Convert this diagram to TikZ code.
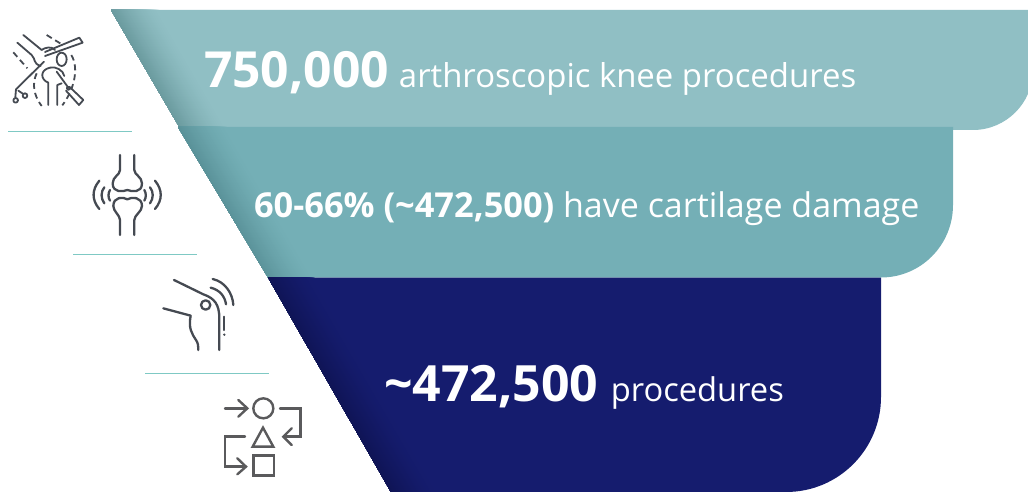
\documentclass[tikz,border=0pt]{standalone}
\usepackage{fontspec}
\setmainfont{Open Sans}
\definecolor{topbase}{HTML}{90BFC4}
\definecolor{topdark}{HTML}{6A9A9E}
\definecolor{midbase}{HTML}{74AFB6}
\definecolor{middark}{HTML}{5A9299}
\definecolor{lowbase}{HTML}{151C6E}
\definecolor{lowdark}{HTML}{0F1455}
\definecolor{rulecol}{HTML}{7FC9C4}
\definecolor{icondark}{HTML}{454A52}
\definecolor{icongrey}{HTML}{5A5A5C}
\newcommand{\funnelpanel}[3]{%
  \begin{scope}
    \clip #1;
    \fill[#3] (0,0) rectangle (1040,492);
    \foreach \i in {48,47,...,0}{%
      \pgfmathtruncatemacro\p{100*(1-\i/48)*sqrt(1-\i/48)}%
      \fill[#2!\p!#3] (111+\i,10) -- (391+\i,492) -- (0,492) -- (0,10) -- cycle;
    }
  \end{scope}}
\tikzset{
  bandtext/.style={anchor=base west,text=white,inner sep=0pt,outer sep=0pt},
  sep/.style={draw=rulecol,line width=1pt},
  ico/.style={draw=icondark,line width=2.3pt,line cap=round,line join=round},
  icothin/.style={draw=icondark,line width=1.8pt,line cap=round,line join=round},
  icogrey/.style={draw=icongrey,line width=2.4pt,line cap=round,line join=miter},
  icodash/.style={icothin,line cap=butt,dash pattern=on 6pt off 4pt}
}
\begin{document}
\begin{tikzpicture}[x=1pt,y=-1pt]
\useasboundingbox (0,0) rectangle (1028,492);
\clip (0,0) rectangle (1028,492);
\funnelpanel{(111,10) -- (1033,10) -- (1033,70) .. controls (1033,103) and (1006,130) .. (973,130) -- (181,130) -- cycle}{topdark}{topbase}
\funnelpanel{(178,127) -- (953,127) -- (953,205) .. controls (953,245) and (921,277.5) .. (881,277.5) -- (268,277.5) -- cycle}{middark}{midbase}
\funnelpanel{(268,277.5) -- (881,277.5) -- (881,397) .. controls (881,449) and (839,492) .. (786,492) -- (391,492) -- cycle}{lowdark}{lowbase}

\node[bandtext] (t1) at (204,88) {\fontsize{49.8}{60}\selectfont\bfseries 750,000\hspace{0.2em}\fontsize{32.9}{36}\selectfont\mdseries arthroscopic knee procedures};
\node[bandtext] (t2) at (254,217) {\fontsize{34.4}{38}\selectfont\bfseries 60-66\% (\textasciitilde472,500)\fontsize{34}{38}\selectfont\mdseries\ have cartilage damage};
\node[bandtext] (t3) at (384,401) {\fontsize{50}{60}\selectfont\bfseries \textasciitilde472,500\hspace{0.25em}\fontsize{32.7}{36}\selectfont\mdseries procedures};

\draw[sep] (8,131.5) -- (132,131.5);
\draw[sep] (73,254.5) -- (197,254.5);
\draw[sep] (145,373.5) -- (269,373.5);

% arthroscopy icon
\begin{scope}[shift={(0,20)},x=0.3333pt,y=-0.3333pt]
  \draw[icothin] (135,96) -- (238,53) -- (248,68) -- (135,108);
  \draw[icothin] (70,45) -- (125,90) .. controls (135,82) and (155,78) .. (165,90);
  \draw[icothin] (52,68) -- (95,105) .. controls (108,118) and (98,130) .. (122,138);
  \draw[icodash] (40,97) -- (82,145);
  \draw[icodash] (140,45) -- (187,74);
  \draw[icothin] (185,118) ellipse [x radius=15,y radius=20];
  \draw[icothin] (132,125) -- (48,208) -- (46,232);
  \draw[icothin] (55,212) -- (70,222);
  \draw[icothin] (47,241) circle [radius=7];
  \draw[icothin] (75,227) circle [radius=7];
  \draw[icothin] (145,255) -- (145,188) .. controls (122,180) and (118,150) .. (150,143) .. controls (165,138) and (190,150) .. (193,168);
  \draw[icothin] (172,255) -- (172,195) -- (185,190);
  \draw[icothin] (170,155) -- (205,203);
  \draw[icothin] (205,205) circle [radius=5];
  \draw[icothin] (208,200) -- (250,240) -- (237,255) -- (198,212);
  \draw[icodash] (110,160) .. controls (96,190) and (100,225) .. (125,258);
  \draw[icodash] (214,105) .. controls (238,145) and (222,210) .. (187,256);
\end{scope}

% joint icon
\begin{scope}[shift={(70,140)},x=0.3333pt,y=-0.3333pt]
  \draw[ico] (150,45) -- (150,90) .. controls (150,105) and (128,110) .. (128,130) .. controls (128,160) and (160,155) .. (172,150) .. controls (185,155) and (216,160) .. (216,130) .. controls (216,110) and (193,105) .. (193,90) -- (193,45);
  \draw[ico] (150,285) -- (150,240) .. controls (150,225) and (130,215) .. (130,198) .. controls (130,170) and (160,170) .. (172,178) .. controls (185,170) and (216,170) .. (216,198) .. controls (216,215) and (193,225) .. (193,240) -- (193,285);
  \draw[ico] (88,122) .. controls (65,150) and (65,180) .. (88,207);
  \draw[ico] (103,142) .. controls (92,155) and (92,175) .. (103,190);
  \draw[ico] (120,150) .. controls (114,160) and (114,172) .. (120,182);
  \draw[ico] (255,122) .. controls (278,150) and (278,180) .. (255,207);
  \draw[ico] (240,142) .. controls (251,155) and (251,175) .. (240,190);
  \draw[ico] (223,150) .. controls (229,160) and (229,172) .. (223,182);
\end{scope}

% knee icon
\begin{scope}[shift={(140,265)},x=0.3333pt,y=-0.3333pt]
  \draw[ico] (102,45) -- (190,88) .. controls (225,100) and (238,120) .. (238,160) -- (238,255);
  \draw[ico] (70,130) -- (152,152) .. controls (145,190) and (155,205) .. (168,225) .. controls (175,235) and (175,245) .. (175,255);
  \draw[ico] (197,120) circle [radius=14];
  \draw[ico] (212,68) .. controls (240,75) and (255,95) .. (258,118);
  \draw[ico] (218,42) .. controls (255,50) and (278,85) .. (280,120);
  \draw[ico] (253,155) -- (253,195);
  \fill[icondark] (253,209) circle [radius=4];
\end{scope}

% process icon
\begin{scope}[shift={(210,385)},x=0.3333pt,y=-0.3333pt]
  \draw[icogrey] (45,70) -- (110,70);
  \draw[icogrey] (85,45) -- (112,70) -- (85,95);
  \draw[icogrey] (160,70) circle [radius=30];
  \draw[icogrey] (210,70) -- (272,70) -- (272,155) -- (222,155);
  \draw[icogrey] (245,130) -- (220,155) -- (245,180);
  \draw[icogrey] (128,185) -- (190,185) -- (159,128) -- cycle;
  \draw[icogrey] (105,155) -- (45,155) -- (45,245) -- (105,245);
  \draw[icogrey] (82,220) -- (108,245) -- (82,268);
  \draw[icogrey] (130,212) rectangle (192,272);
\end{scope}
\end{tikzpicture}
\end{document}
